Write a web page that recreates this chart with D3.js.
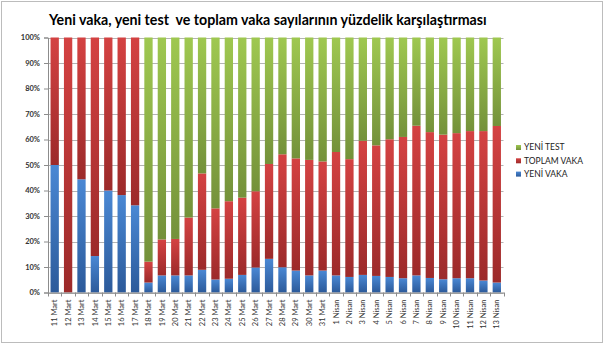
<!DOCTYPE html>
<html>
<head>
<meta charset="utf-8">
<script src="https://cdn.jsdelivr.net/npm/d3@7"></script>
<style>
  body { margin: 0; background: #fff; }
  svg { display: block; font-family: Lato, "Open Sans", sans-serif; }
  .title { white-space: pre; }
</style>
</head>
<body>
<div id="chart"></div>
<script>
var w = 614,
    h = 351,
    m = [37.5, 110.5, 58.5, 48]; // top right bottom left

// shares of each day (%)
var dates = ["11 Mart","12 Mart","13 Mart","14 Mart","15 Mart","16 Mart","17 Mart","18 Mart",
  "19 Mart","20 Mart","21 Mart","22 Mart","23 Mart","24 Mart","25 Mart","26 Mart","27 Mart",
  "28 Mart","29 Mart","30 Mart","31 Mart","1 Nisan","2 Nisan","3 Nisan","4 Nisan","5 Nisan",
  "6 Nisan","7 Nisan","8 Nisan","9 Nisan","10 Nisan","11 Nisan","12 Nisan","13 Nisan"];
var yeniVaka = [50, 0, 44.4, 14.3, 40, 38.2, 34.2, 3.9, 6.7, 6.7, 6.7, 8.9, 5.1, 5.4, 6.9, 9.8, 13.2,
  9.9, 8.6, 6.7, 8.6, 6.7, 6.1, 6.9, 6.5, 6.1, 5.6, 6.7, 5.7, 5.2, 5.6, 5.6, 4.7, 3.9];
var toplamVaka = [50, 100, 55.6, 85.7, 60, 61.8, 65.8, 8.2, 14.1, 14.3, 22.7, 37.8, 27.9, 30.4, 30.3, 29.9, 37.2,
  44.3, 44.0, 45.3, 42.8, 48.4, 46.2, 52.6, 51.2, 54.0, 55.4, 58.7, 57.2, 56.7, 56.9, 57.7, 58.6, 61.4];
var yeniTest = [0, 0, 0, 0, 0, 0, 0, 87.9, 79.2, 79.0, 70.6, 53.3, 67.0, 64.2, 62.8, 60.3, 49.6,
  45.8, 47.4, 48.0, 48.6, 44.9, 47.7, 40.5, 42.3, 39.9, 39.0, 34.6, 37.1, 38.1, 37.5, 36.7, 36.7, 34.7];
var yTicks = [0, 0.1, 0.2, 0.3, 0.4, 0.5, 0.6, 0.7, 0.8, 0.9, 1];

var series = [
  {key: "yeniVaka", name: "YENİ VAKA", top: "#4a88d4", bottom: "#2c5a9a"},
  {key: "toplamVaka", name: "TOPLAM VAKA", top: "#d44242", bottom: "#9c2a2a"},
  {key: "yeniTest", name: "YENİ TEST", top: "#9fc850", bottom: "#74913a"}
];

var rows = dates.map(function(d, i) {
  return {date: d, yeniVaka: yeniVaka[i], toplamVaka: toplamVaka[i], yeniTest: yeniTest[i]};
});

var stacked = d3.stack()
    .keys(series.map(function(s) { return s.key; }))
    .offset(d3.stackOffsetExpand)(rows);

var x = d3.scaleBand()
    .domain(dates)
    .range([m[3], w - m[1]])
    .paddingInner(0.38)
    .paddingOuter(0.19);

var y = d3.scaleLinear()
    .domain([0, 1])
    .range([h - m[2], m[0]]);

var svg = d3.select("#chart").append("svg")
    .attr("width", w)
    .attr("height", h);

var defs = svg.append("defs");
series.forEach(function(s) {
  var g = defs.append("linearGradient")
      .attr("id", "g-" + s.key)
      .attr("x1", 0).attr("y1", 0).attr("x2", 0).attr("y2", 1);
  g.append("stop").attr("offset", "0%").attr("stop-color", s.top);
  g.append("stop").attr("offset", "100%").attr("stop-color", s.bottom);
});

// frame
svg.append("rect")
    .attr("x", 1.5).attr("y", 1.5)
    .attr("width", 601).attr("height", 341)
    .attr("fill", "#fff")
    .attr("stroke", "#bcbcbc");

svg.append("text")
    .attr("class", "title")
    .attr("x", 49)
    .attr("y", 25)
    .attr("font-size", 14)
    .attr("font-weight", "bold")
    .attr("fill", "#000")
    .text("Yeni vaka, yeni test  ve toplam vaka sayılarının yüzdelik karşılaştırması");

// fit title width to the original
var t = svg.select(".title");
var tl = t.node().getComputedTextLength();
t.attr("font-size", 14 * 438 / tl);

// grid
svg.append("g")
    .selectAll("line")
    .data(yTicks)
  .enter().append("line")
    .attr("x1", m[3]).attr("x2", w - m[1])
    .attr("y1", function(d) { return Math.round(y(d)) + 0.5; })
    .attr("y2", function(d) { return Math.round(y(d)) + 0.5; })
    .attr("stroke", "#b3b3b3");

// y axis
var yAxis = svg.append("g")
    .attr("transform", "translate(" + m[3] + ",0)")
    .call(d3.axisLeft(y).tickValues(yTicks).tickFormat(d3.format(".0%")).tickSize(4));
yAxis.select(".domain").attr("stroke", "#8c8c8c");
yAxis.selectAll(".tick line").attr("stroke", "#8c8c8c");
yAxis.selectAll("text")
    .attr("x", -8)
    .attr("font-size", 7.5)
    .attr("font-weight", "bold")
    .attr("fill", "#333")
    .attr("font-family", "Lato, sans-serif");

// bars
svg.append("g")
    .selectAll("g")
    .data(stacked)
  .enter().append("g")
    .attr("fill", function(d) { return "url(#g-" + d.key + ")"; })
  .selectAll("rect")
    .data(function(d) { return d; })
  .enter().append("rect")
    .attr("x", function(d) { return x(d.data.date); })
    .attr("width", x.bandwidth())
    .attr("y", function(d) { return y(d[1]); })
    .attr("height", function(d) { return y(d[0]) - y(d[1]); });

// x axis
var xAxis = svg.append("g")
    .attr("transform", "translate(0," + y(0) + ")")
    .call(d3.axisBottom(x).tickSize(0).tickSizeOuter(0));
xAxis.select(".domain").attr("stroke", "#8c8c8c");
xAxis.selectAll(".tick text")
    .attr("transform", "rotate(-90)")
    .attr("x", -7)
    .attr("y", 0)
    .attr("dy", "0.35em")
    .attr("text-anchor", "end")
    .attr("font-size", 7.5)
    .attr("fill", "#333")
    .attr("font-family", "Lato, sans-serif");

// ticks between categories
svg.append("g")
    .selectAll("line")
    .data(dates.concat(["end"]))
  .enter().append("line")
    .attr("x1", function(d, i) { return Math.round(m[3] + i * x.step()) + 0.5; })
    .attr("x2", function(d, i) { return Math.round(m[3] + i * x.step()) + 0.5; })
    .attr("y1", y(0))
    .attr("y2", y(0) + 4)
    .attr("stroke", "#8c8c8c");

// legend
var legend = svg.append("g")
    .selectAll("g")
    .data(series.slice().reverse())
  .enter().append("g")
    .attr("transform", function(d, i) { return "translate(516," + (147.5 + i * 13.3) + ")"; });

legend.append("rect")
    .attr("x", 0).attr("y", -2.5)
    .attr("width", 5).attr("height", 5)
    .attr("fill", function(d) { return "url(#g-" + d.key + ")"; });

legend.append("text")
    .attr("x", 8)
    .attr("dy", "0.35em")
    .attr("font-size", 8.5)
    .attr("fill", "#222")
    .text(function(d) { return d.name; });
</script>
</body>
</html>
